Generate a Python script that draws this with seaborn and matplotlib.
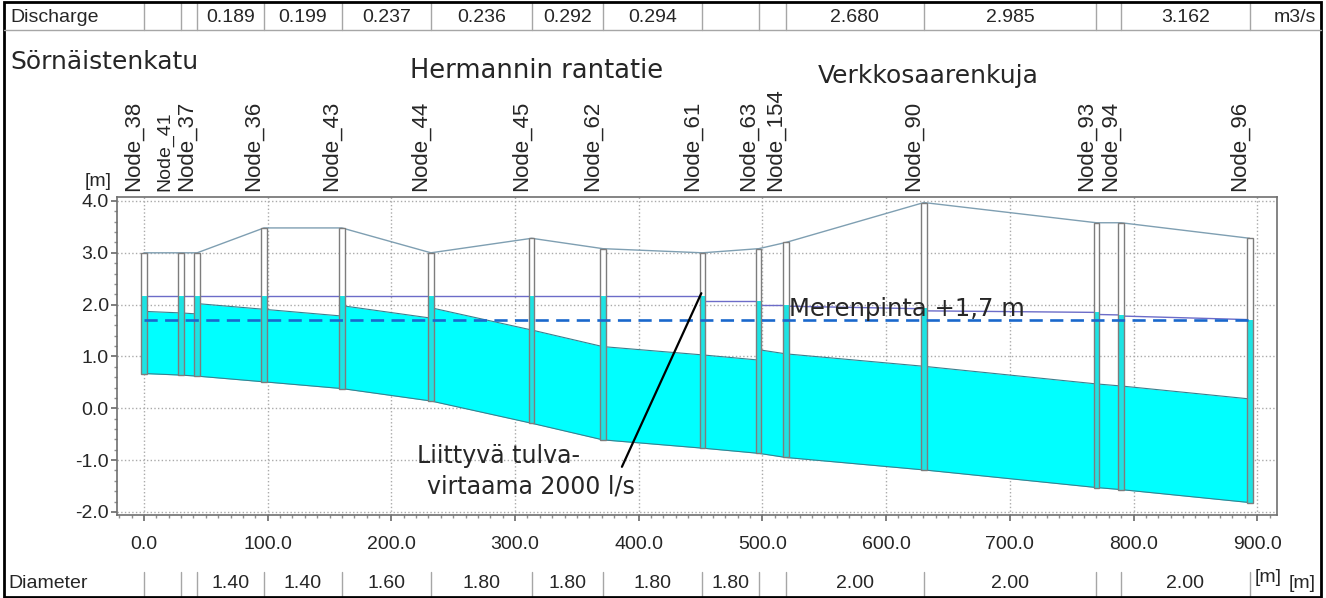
import numpy as np
import pandas as pd
import seaborn as sns
import matplotlib
matplotlib.use('Agg')
import matplotlib.pyplot as plt
import matplotlib.transforms as mtransforms
from matplotlib.patches import Rectangle
from matplotlib.lines import Line2D
from matplotlib.ticker import MultipleLocator

# --- profile data ---
node_names = ['Node_38', 'Node_41', 'Node_37', 'Node_36', 'Node_43', 'Node_44',
              'Node_45', 'Node_62', 'Node_61', 'Node_63', 'Node_154', 'Node_90',
              'Node_93', 'Node_94', 'Node_96']
node_x = [0, 30, 43, 97, 160, 232, 313.5, 371, 451.5, 497, 519, 630.5, 770, 790, 894]
ground = [3.0, 3.0, 3.0, 3.48, 3.48, 3.0, 3.28, 3.08, 3.0, 3.08, 3.2, 3.97, 3.58, 3.58, 3.28]
invert = [0.67, 0.64, 0.62, 0.51, 0.38, 0.14, -0.29, -0.61, -0.77, -0.87, -0.95,
          -1.19, -1.53, -1.57, -1.82]
manhole_wl = [2.16, 2.16, 2.16, 2.16, 2.16, 2.16, 2.16, 2.16, 2.16, 2.07, 2.0,
              1.93, 1.85, 1.8, 1.71]

# per pipe segment (node i -> node i+1)
pipe_d = [1.2, 1.2, 1.4, 1.4, 1.6, 1.8, 1.8, 1.8, 1.8, 2.0, 2.0, 2.0, 2.0, 2.0]
hgl_start = [2.16, 2.16, 2.16, 2.16, 2.16, 2.16, 2.16, 2.16, 2.07, 2.0, 1.97, 1.88, 1.81, 1.78]
hgl_end = [2.16, 2.16, 2.16, 2.16, 2.16, 2.16, 2.16, 2.16, 2.07, 2.0, 1.92, 1.85, 1.80, 1.71]
discharge_lbl = ['', '', '0.189', '0.199', '0.237', '0.236', '0.292', '0.294',
                 '', '', '2.680', '2.985', '', '3.162']
diameter_lbl = ['', '', '1.40', '1.40', '1.60', '1.80', '1.80', '1.80', '1.80',
                '', '2.00', '2.00', '', '2.00']

sea_level = 1.7
x_ticks = [0, 100, 200, 300, 400, 500, 600, 700, 800, 900]
y_ticks = [-2.0, -1.0, 0.0, 1.0, 2.0, 3.0, 4.0]

W, H = 1326, 598
sns.set_theme(style='white')
plt.rcParams['font.family'] = ['Liberation Sans', 'DejaVu Sans']

fig = plt.figure(figsize=(W / 100, H / 100), dpi=100)
fig.patch.set_facecolor('white')
ax = fig.add_axes([117 / W, 1 - 515 / H, (1277 - 117) / W, (515 - 197) / H])

def fy(py):
    return 1 - py / H

# pipes
edge_c = '#3b7f8e'
for i in range(len(pipe_d)):
    xs = [node_x[i], node_x[i + 1]]
    lo = [invert[i], invert[i + 1]]
    hi = [invert[i] + pipe_d[i], invert[i + 1] + pipe_d[i]]
    ax.fill_between(xs, lo, hi, color='#00ffff', lw=0, zorder=2)
    ax.plot(xs, lo, color=edge_c, lw=0.8, zorder=2.5)
    ax.plot(xs, hi, color=edge_c, lw=0.8, zorder=2.5)

# ground line and hydraulic grade line
ground_df = pd.DataFrame({'x': node_x, 'y': ground})
sns.lineplot(data=ground_df, x='x', y='y', ax=ax, color='#7f9fb2', lw=1,
             sort=False, estimator=None, zorder=3)
hgl_rows = []
for i in range(len(hgl_start)):
    hgl_rows.append({'seg': i, 'x': node_x[i], 'y': hgl_start[i]})
    hgl_rows.append({'seg': i, 'x': node_x[i + 1], 'y': hgl_end[i]})
hgl_df = pd.DataFrame(hgl_rows)
sns.lineplot(data=hgl_df, x='x', y='y', units='seg', ax=ax, color='#6c6cc8', lw=1,
             sort=False, estimator=None, zorder=3)

# manholes
mw = 4.4
for x, inv, top, wl in zip(node_x, invert, ground, manhole_wl):
    ax.add_patch(Rectangle((x - mw / 2, inv), mw, top - inv, facecolor='white',
                           edgecolor='none', zorder=4))
    ax.add_patch(Rectangle((x - mw / 2, inv), mw, wl - inv, facecolor='#1de3e3',
                           edgecolor='none', zorder=4.5))
    ax.add_patch(Rectangle((x - mw / 2, inv), mw, top - inv, facecolor='none',
                           edgecolor='#7d7d7d', lw=1, zorder=5))

# sea level
ax.plot([node_x[0], node_x[-1]], [sea_level, sea_level], color='#1a68cc', lw=1.9,
        linestyle=(0, (5, 2.8)), zorder=6)
ax.text(521.5, 1.78, 'Merenpinta +1,7 m', fontsize=17.5, family='DejaVu Sans',
        ha='left', va='baseline', zorder=8)

# inflow annotation
ax.plot([386.4, 450.6], [-1.13, 2.22], color='black', lw=1.6, zorder=7)
ax.text(220.7, -1.06, 'Liittyvä tulva-', fontsize=17, family='DejaVu Sans',
        ha='left', va='baseline', zorder=8)
ax.text(228.8, -1.64, 'virtaama 2000 l/s', fontsize=17, family='DejaVu Sans',
        ha='left', va='baseline', zorder=8)

# axes styling
ax.set_xlim(-21.8, 916)
ax.set_ylim(-2.06, 4.077)
ax.set_xticks(x_ticks)
ax.set_xticklabels(['%.1f' % v for v in x_ticks])
ax.set_yticks(y_ticks)
ax.set_yticklabels(['%.1f' % v for v in y_ticks])
ax.xaxis.set_minor_locator(MultipleLocator(10))
ax.yaxis.set_minor_locator(MultipleLocator(0.2))
ax.set_xlabel('')
ax.set_ylabel('')
ax.set_axisbelow(True)
ax.grid(True, which='major', color='#aaaaaa', linestyle=':', lw=1.0)
ax.tick_params(axis='x', which='major', length=4, pad=11, labelsize=14,
               color='#707070', bottom=True, direction='out')
ax.tick_params(axis='y', which='major', length=4, pad=2, labelsize=14,
               color='#707070', left=True, direction='out')
ax.tick_params(which='minor', length=2, color='#909090', bottom=True, left=True,
               direction='out')
for sp in ax.spines.values():
    sp.set_color('#6f6f6f')
    sp.set_linewidth(1.2)

trans = mtransforms.blended_transform_factory(ax.transData, fig.transFigure)

# node labels (Node_41 sits almost on top of Node_37, nudge it a little left)
for x, name in zip(node_x, node_names):
    fs, shift = 16, 0
    if name == 'Node_41':
        fs, shift = 14, -6.5
    ax.text(x + shift, fy(191), name, rotation=90, ha='right', va='bottom',
            transform=trans, fontsize=fs, clip_on=False)
fig.text(98 / W, fy(182), '[m]', ha='center', va='center', fontsize=14)
fig.text(1268 / W, fy(577), '[m]', ha='center', va='center', fontsize=14)

# street names
fig.text(10 / W, fy(62), 'Sörnäistenkatu', fontsize=18, family='DejaVu Sans',
         ha='left', va='center')
fig.text(410 / W, fy(71), 'Hermannin rantatie', fontsize=18.5, family='DejaVu Sans',
         ha='left', va='center')
fig.text(818 / W, fy(76), 'Verkkosaarenkuja', fontsize=18, family='DejaVu Sans',
         ha='left', va='center')

# discharge row
fig.text(10 / W, fy(17), 'Discharge', fontsize=14, ha='left', va='center')
fig.text(1316 / W, fy(17), 'm3/s', fontsize=14, ha='right', va='center')
for i, lab in enumerate(discharge_lbl):
    if lab:
        ax.text((node_x[i] + node_x[i + 1]) / 2, fy(17), lab, transform=trans,
                ha='center', va='center', fontsize=14, clip_on=False)
for x in node_x:
    ax.plot([x, x], [fy(3), fy(30)], transform=trans, color='#a6a6a6', lw=1,
            clip_on=False)
fig.add_artist(Line2D([4 / W, 1321 / W], [fy(30), fy(30)], transform=fig.transFigure,
                      color='#a6a6a6', lw=1))

# diameter row
fig.text(8 / W, fy(584), 'Diameter', fontsize=14, ha='left', va='center')
fig.text(1316 / W, fy(584), '[m]', fontsize=14, ha='right', va='center')
for i, lab in enumerate(diameter_lbl):
    if lab:
        ax.text((node_x[i] + node_x[i + 1]) / 2, fy(584), lab, transform=trans,
                ha='center', va='center', fontsize=14, clip_on=False)
for x in node_x:
    ax.plot([x, x], [fy(572), fy(596)], transform=trans, color='#a6a6a6', lw=1,
            clip_on=False)

# outer frame
fig.add_artist(Rectangle((4 / W, 1 / H), 1317 / W, 595 / H, transform=fig.transFigure,
                         fill=False, edgecolor='black', lw=2))

fig.savefig('out.png', dpi=100, facecolor='white')
